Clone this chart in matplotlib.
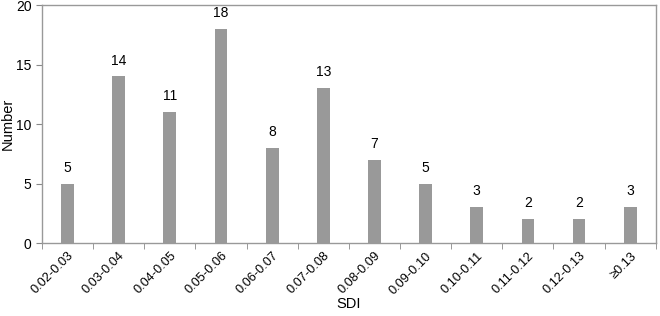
import numpy as np
import matplotlib.pyplot as plt

plt.rcParams['font.family'] = ['Liberation Sans', 'DejaVu Sans']

# SDI classes and counts
sdi_bins = ["0.02-0.03", "0.03-0.04", "0.04-0.05", "0.05-0.06", "0.06-0.07",
            "0.07-0.08", "0.08-0.09", "0.09-0.10", "0.10-0.11", "0.11-0.12",
            "0.12-0.13", "\u22650.13"]
counts = [5, 14, 11, 18, 8, 13, 7, 5, 3, 2, 2, 3]

fig = plt.figure(figsize=(6.6, 3.16), dpi=100)
ax = fig.add_axes([0.0636, 0.231, 0.930, 0.753])

x = np.arange(len(sdi_bins))
ax.bar(x, counts, width=0.25, color="#999999")
for xi, c in zip(x, counts):
    ax.text(xi, c + 0.75, str(c), ha="center", va="bottom", fontsize=10)

ax.set_xlim(-0.5, len(sdi_bins) - 0.5)
ax.set_ylim(0, 20)
ax.set_yticks([0, 5, 10, 15, 20])

# category labels centered, ticks at the boundaries
ax.set_xticks(x)
ax.set_xticklabels(sdi_bins, rotation=45, ha="right", rotation_mode="anchor", fontsize=9.2)
ax.tick_params(axis="x", which="major", length=0, pad=5)
ax.set_xticks(np.arange(-0.5, len(sdi_bins), 1.0), minor=True)
ax.tick_params(axis="x", which="minor", length=4, color="#888888", direction="out")
ax.tick_params(axis="y", length=4, color="#888888", labelsize=10)

for s in ax.spines.values():
    s.set_color("#999999")
    s.set_linewidth(1)

ax.set_xlabel("SDI", fontsize=10.5, labelpad=0)
ax.set_ylabel("Number", fontsize=10.5, labelpad=1)

fig.savefig("out.png", dpi=100)
